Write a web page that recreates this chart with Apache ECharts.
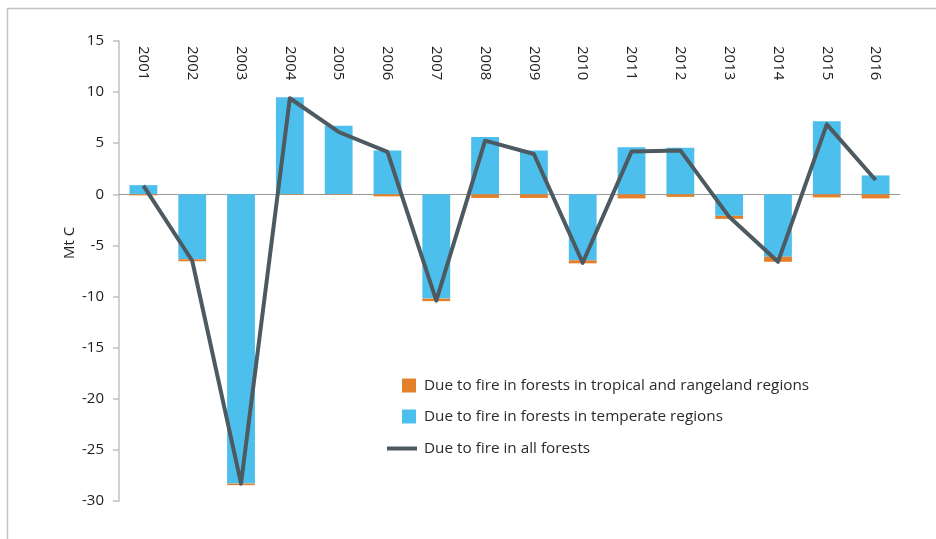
<!DOCTYPE html>
<html>
<head>
<meta charset="utf-8">
<script src="https://cdn.jsdelivr.net/npm/echarts@6/dist/echarts.min.js"></script>
<style>
html,body{margin:0;padding:0;background:#fff;}
#chart{width:936px;height:539px;}
</style>
</head>
<body>
<div id="chart"></div>
<script>
const years = ['2001','2002','2003','2004','2005','2006','2007','2008','2009','2010','2011','2012','2013','2014','2015','2016'];
const temperate = [0.9, -6.35, -28.3, 9.5, 6.7, 4.3, -10.2, 5.6, 4.3, -6.45, 4.6, 4.55, -2.1, -6.1, 7.15, 1.85];
const tropical = [-0.1, -0.2, -0.15, -0.05, -0.05, -0.2, -0.25, -0.35, -0.35, -0.3, -0.4, -0.25, -0.3, -0.5, -0.3, -0.4];
const allForests = [0.85, -6.5, -28.3, 9.4, 6.1, 4.15, -10.4, 5.25, 3.95, -6.7, 4.2, 4.3, -2.2, -6.6, 6.85, 1.4];

const nameTrop = 'Due to fire in forests in tropical and rangeland regions';
const nameTemp = 'Due to fire in forests in temperate regions';
const nameAll = 'Due to fire in all forests';

const FONT = '"Open Sans", "Noto Sans", sans-serif';
const chart = echarts.init(document.getElementById('chart'), null, {renderer: 'canvas'});
const legendText = {fontFamily: FONT, fontSize: 15.3, color: '#2b2b2b', lineHeight: 14, padding: [0, 0, 0, 3]};
chart.setOption({
  animation: false,
  backgroundColor: '#fff',
  graphic: [{
    type: 'rect', silent: true,
    shape: {x: 7.5, y: 8.5, width: 940, height: 540},
    style: {fill: 'none', stroke: '#c4c4c4', lineWidth: 1.5}
  }],
  grid: {left: 119, right: 36, top: 41, bottom: 38},
  legend: [
    {data: [nameTrop], orient: 'vertical', left: 397, top: 373, itemWidth: 14, itemHeight: 14, icon: 'rect', textStyle: legendText},
    {data: [nameTemp], orient: 'vertical', left: 397, top: 404, itemWidth: 14, itemHeight: 14, icon: 'rect', textStyle: legendText},
    {data: [nameAll], orient: 'vertical', left: 382, top: 436, itemWidth: 30, itemHeight: 4, icon: 'rect', textStyle: Object.assign({}, legendText, {padding: [0,0,0,2]})}
  ],
  xAxis: [
    {
      type: 'category', data: years, position: 'top',
      axisLine: {show: false, onZero: false}, axisTick: {show: false},
      axisLabel: {inside: true, rotate: 90, margin: 5, fontFamily: FONT, fontSize: 15, color: '#1e1e1e'}
    },
    {
      type: 'category', data: years, position: 'bottom',
      axisLine: {show: true, onZero: true, lineStyle: {color: '#9a9a9a', width: 1}},
      axisTick: {show: false}, axisLabel: {show: false}
    }
  ],
  yAxis: {
    type: 'value', min: -30, max: 15, interval: 5,
    name: 'Mt C', nameLocation: 'middle', nameGap: 42, nameRotate: 90, nameMoveOverlap: false,
    nameTextStyle: {fontFamily: FONT, fontSize: 15, color: '#1e1e1e', padding: [0, 0, 0, 56]},
    axisLine: {show: true, lineStyle: {color: '#c0c0c0', width: 1.5}},
    axisTick: {show: true, length: 6, lineStyle: {color: '#c0c0c0', width: 1.5}},
    axisLabel: {margin: 15, fontFamily: FONT, fontSize: 15, color: '#1e1e1e'},
    splitLine: {show: false}
  },
  series: [
    {name: nameTemp, type: 'bar', stack: 'fire', data: temperate, barCategoryGap: '43%',
     itemStyle: {color: '#4dbfec'}},
    {name: nameTrop, type: 'bar', stack: 'fire', data: tropical, barCategoryGap: '43%',
     itemStyle: {color: '#e3802b'}},
    {name: nameAll, type: 'line', data: allForests, showSymbol: false, symbol: 'none',
     lineStyle: {color: '#4e5a62', width: 4, join: 'round'}, itemStyle: {color: '#4e5a62'}, z: 5}
  ]
});
</script>
</body>
</html>
